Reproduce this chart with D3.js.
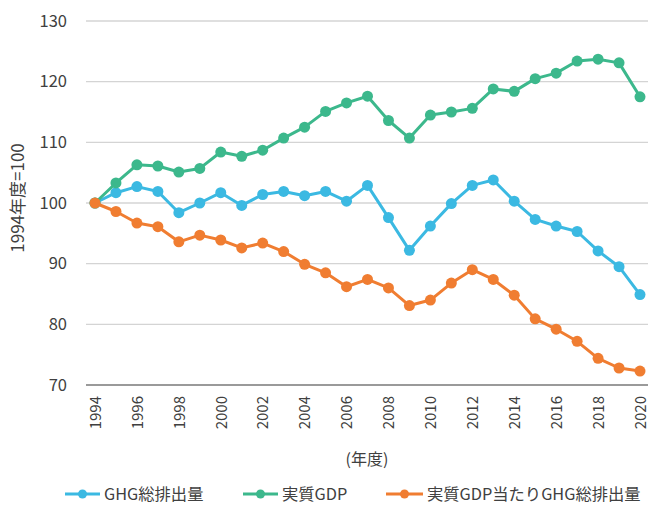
<!DOCTYPE html>
<html>
<head>
<meta charset="utf-8">
<script src="https://cdn.jsdelivr.net/npm/d3@7"></script>
<style>
  html, body { margin: 0; padding: 0; background: #fff; }
  svg { display: block; font-family: "Noto Sans CJK JP", "Noto Sans", sans-serif; }
</style>
</head>
<body>
<svg id="chart" width="649" height="507"></svg>
<script>
// Fiscal years 1994–2020, indexed to 1994 = 100
const years = d3.range(1994, 2021);
const ghgTotal = [100, 101.7, 102.7, 101.9, 98.4, 100.0, 101.7, 99.6, 101.4, 101.9, 101.2, 101.9, 100.3, 102.9,
  97.6, 92.2, 96.2, 99.9, 102.9, 103.8, 100.3, 97.3, 96.2, 95.3, 92.1, 89.5, 84.9];
const realGdp = [100, 103.3, 106.3, 106.1, 105.1, 105.7, 108.4, 107.7, 108.7, 110.7, 112.5, 115.1, 116.5, 117.6,
  113.6, 110.7, 114.5, 115.0, 115.6, 118.8, 118.4, 120.5, 121.4, 123.4, 123.7, 123.1, 117.5];
const ghgPerGdp = [100, 98.6, 96.7, 96.1, 93.6, 94.7, 93.9, 92.6, 93.4, 92.0, 89.9, 88.5, 86.2, 87.4,
  86.0, 83.1, 84.0, 86.8, 89.0, 87.4, 84.8, 80.9, 79.2, 77.2, 74.4, 72.8, 72.3];
const yTicks = [70, 80, 90, 100, 110, 120, 130];
const xTicks = d3.range(1994, 2021, 2);
const seriesNames = ["GHG総排出量", "実質GDP", "実質GDP当たりGHG総排出量"];
const seriesColors = ["#3bb9e2", "#3cb88c", "#f07d31"];

const series = [
  { name: seriesNames[0], color: seriesColors[0], values: ghgTotal },
  { name: seriesNames[1], color: seriesColors[1], values: realGdp },
  { name: seriesNames[2], color: seriesColors[2], values: ghgPerGdp }
];

const svg = d3.select("#chart");
const gridLeft = 86, gridRight = 648;

const x = d3.scaleLinear().domain([1994, 2020]).range([95, 640]);
const y = d3.scaleLinear().domain([70, 130]).range([385, 21]);

// horizontal gridlines
svg.append("g")
  .selectAll("line")
  .data(yTicks.filter(t => t !== 70))
  .join("line")
  .attr("x1", gridLeft).attr("x2", gridRight)
  .attr("y1", d => y(d)).attr("y2", d => y(d))
  .attr("stroke", "#d4d4d4").attr("stroke-width", 1.3);

// y axis labels
const yAxis = d3.axisLeft(y).tickValues(yTicks).tickSize(0).tickPadding(0);
svg.append("g")
  .attr("transform", "translate(67,0)")
  .call(yAxis)
  .call(g => g.select(".domain").remove())
  .call(g => g.selectAll("text")
    .attr("font-size", 16.5).attr("fill", "#404040")
    .attr("font-family", "'Noto Sans CJK JP', sans-serif"));

// x axis baseline
svg.append("line")
  .attr("x1", gridLeft).attr("x2", gridRight)
  .attr("y1", y(70)).attr("y2", y(70))
  .attr("stroke", "#9a9a9a").attr("stroke-width", 2);

// x axis labels (rotated)
const xAxis = d3.axisBottom(x).tickValues(xTicks).tickFormat(d3.format("d")).tickSize(0).tickPadding(0);
svg.append("g")
  .attr("transform", `translate(0,${y(70)})`)
  .call(xAxis)
  .call(g => g.select(".domain").remove())
  .call(g => g.selectAll("text")
    .attr("font-size", 15).attr("fill", "#404040")
    .attr("font-family", "'Noto Sans CJK JP', sans-serif")
    .attr("text-anchor", "end")
    .attr("dy", "0.35em")
    .attr("transform", "translate(0,11) rotate(-90)")
    .attr("x", 0).attr("y", 0));

// axis titles
svg.append("text")
  .attr("x", 367).attr("y", 465)
  .attr("text-anchor", "middle")
  .attr("font-size", 16).attr("fill", "#404040")
  .text("(年度)");

svg.append("text")
  .attr("transform", "translate(24,198) rotate(-90)")
  .attr("text-anchor", "middle")
  .attr("font-size", 17).attr("fill", "#404040")
  .text("1994年度=100");

// series lines and markers
const line = d3.line().x((d, i) => x(years[i])).y(d => y(d));
const seriesG = svg.append("g");
series.forEach(s => {
  const g = seriesG.append("g");
  g.append("path")
    .attr("d", line(s.values))
    .attr("fill", "none")
    .attr("stroke", s.color)
    .attr("stroke-width", 3)
    .attr("stroke-linejoin", "round");
  g.selectAll("circle")
    .data(s.values)
    .join("circle")
    .attr("cx", (d, i) => x(years[i]))
    .attr("cy", d => y(d))
    .attr("r", 5.5)
    .attr("fill", s.color);
});

// legend
const legendItems = [
  { x: 65, tx: 104 },
  { x: 243, tx: 282 },
  { x: 386, tx: 427 }
];
const legend = svg.append("g");
series.forEach((s, i) => {
  const li = legendItems[i];
  const ly = 494;
  legend.append("line")
    .attr("x1", li.x).attr("x2", li.tx - 4)
    .attr("y1", ly).attr("y2", ly)
    .attr("stroke", s.color).attr("stroke-width", 3);
  legend.append("circle")
    .attr("cx", (li.x + li.tx - 4) / 2).attr("cy", ly)
    .attr("r", 4.5).attr("fill", s.color);
  legend.append("text")
    .attr("x", li.tx).attr("y", ly)
    .attr("dy", "0.35em")
    .attr("font-size", 16.3).attr("fill", "#404040")
    .text(s.name);
});
</script>
</body>
</html>
